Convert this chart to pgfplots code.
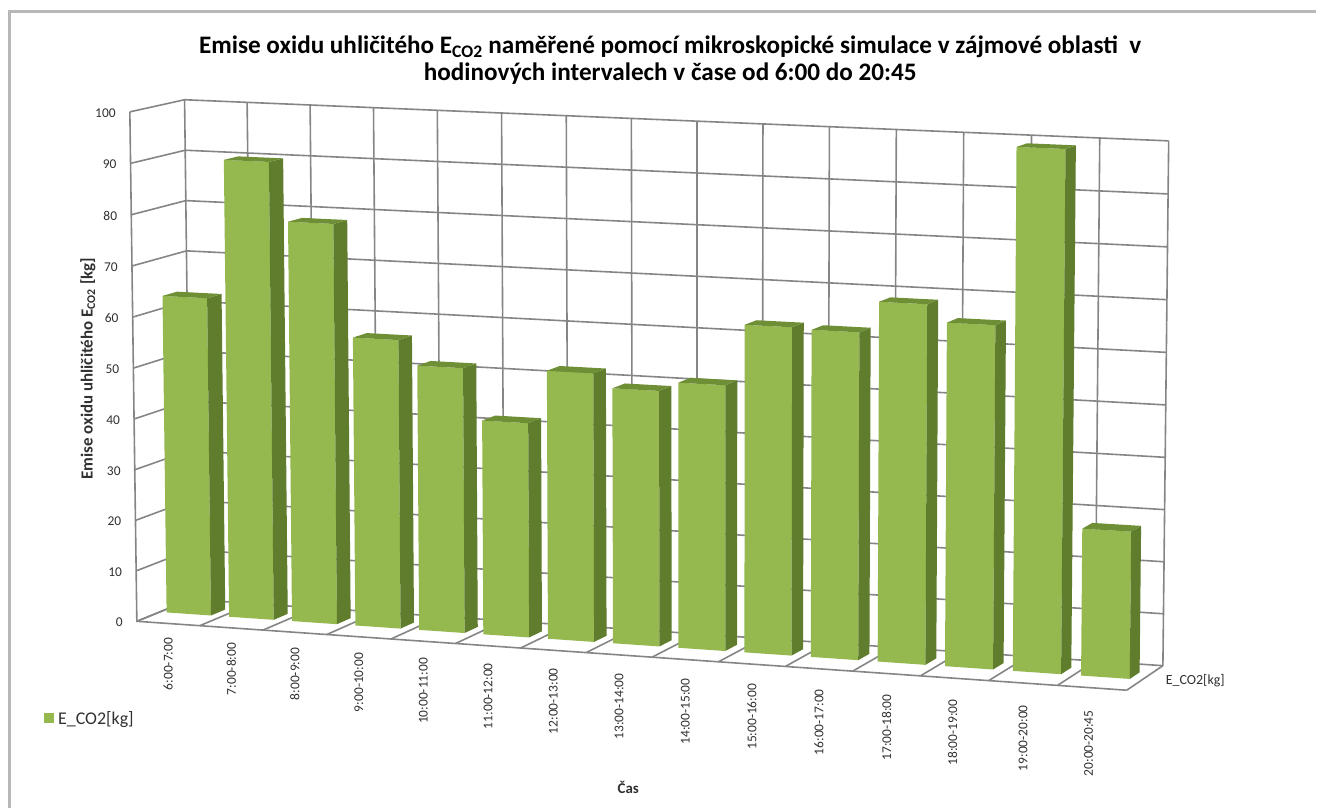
\documentclass[border=0pt]{standalone}
\usepackage{fontspec}
\setmainfont{Carlito}
\usepackage{pgfplots}
\usepackage{pgfplotstable}
\pgfplotsset{compat=1.18}

\definecolor{barfront}{HTML}{95B84F}
\definecolor{barside}{HTML}{5F7D2C}
\definecolor{bartop}{HTML}{6E8F35}
\definecolor{gridgrey}{HTML}{858585}
\definecolor{framegrey}{HTML}{B8B8B8}
\definecolor{labeltext}{HTML}{303030}

% Emissions per interval (kg)
\pgfplotstableread{
value
62.9
90.2
78.7
56.7
51.9
41.9
52.3
49.6
51.4
63.2
62.9
68.9
65.6
99.3
28.0
}\emissions

% Faces of one bar: a = position in the category, d = depth, b = share of the value
\pgfplotstableread{
a    d    b
0.11 0.42 0
0.82 0.42 0
0.82 0.42 1
0.11 0.42 1
}\frontface
\pgfplotstableread{
a    d    b
0.82 0.42 0
0.82 0.69 0
0.82 0.69 1
0.82 0.42 1
}\sideface
\pgfplotstableread{
a    d    b
0.11 0.42 1
0.82 0.42 1
0.82 0.69 1
0.11 0.69 1
}\topface

% Wall outline at one height: left wall, then back wall
\pgfplotstableread{
a d
0 0
0 1
1 1
}\wallline

% One category line: across the floor, then up the back wall
\pgfplotstableread{
d h
0 0
1 0
1 1
}\categoryline

% Left corner and front edge of the floor
\pgfplotstableread{
u h
0 1
0 0
1 0
}\frontedge

% Category names along the front edge of the floor
\pgfplotstableread[col sep=comma]{
pos,name
0.5,6:00-7:00
1.5,7:00-8:00
2.5,8:00-9:00
3.5,9:00-10:00
4.5,10:00-11:00
5.5,11:00-12:00
6.5,12:00-13:00
7.5,13:00-14:00
8.5,14:00-15:00
9.5,15:00-16:00
10.5,16:00-17:00
11.5,17:00-18:00
12.47,18:00-19:00
13.5,19:00-20:00
14.45,20:00-20:45
}\categories

\pgfplotstableread{
h name
0 0
10 10
20 20
30 30
40 40
50 50
60 60
70 70
80 80
90 90
100 100
}\valueticks

\begin{document}
\begin{tikzpicture}[
  declare function={
    wd(\u,\v,\h)=1-0.05*\u+0.02*\v-0.012*\h;
    px(\u,\v,\h)=(137+934.6*\u+57.82*\v-8.56*\h)/wd(\u,\v,\h);
    py(\u,\v,\h)=(622+34.45*\u-10*\v-511.34*\h)/wd(\u,\v,\h);
  }]
\begin{axis}[
  at={(0,0)}, anchor=south west,
  scale only axis, width=1317bp, height=809bp,
  xmin=0, xmax=1317, ymin=0, ymax=809, y dir=reverse,
  hide axis, clip=false,
  every axis plot/.append style={forget plot},
  gridline/.style={draw=gridgrey, line width=1.6bp, mark=none},
]
  % Page extent and the outer frame of the chart
  \path (axis cs:0,0) rectangle (axis cs:1317,809);
  \draw[framegrey, line width=3bp] (axis cs:10,809) -- (axis cs:10,12) -- (axis cs:1317,12);

  % Height lines on the walls
  \pgfplotsinvokeforeach{0,...,10}{
    \addplot[gridline] table[
      x expr={px(\thisrow{a},\thisrow{d},#1/10)},
      y expr={py(\thisrow{a},\thisrow{d},#1/10)}]{\wallline};
  }
  % Category lines on the back wall and on the floor
  \pgfplotsinvokeforeach{0,...,15}{
    \addplot[gridline] table[
      x expr={px(#1/15,\thisrow{d},\thisrow{h})},
      y expr={py(#1/15,\thisrow{d},\thisrow{h})}]{\categoryline};
  }
  % Front edge of the floor and the front corner of the left wall
  \addplot[gridline] table[
    x expr={px(\thisrow{u},0,\thisrow{h})},
    y expr={py(\thisrow{u},0,\thisrow{h})}]{\frontedge};

  % The bars
  \pgfplotsinvokeforeach{0,...,14}{
    \pgfplotstablegetelem{#1}{value}\of\emissions
    \let\val\pgfplotsretval
    \addplot[fill=barfront, draw=none, mark=none] table[
      x expr={px((#1+\thisrow{a})/15,\thisrow{d},\val/100*\thisrow{b})},
      y expr={py((#1+\thisrow{a})/15,\thisrow{d},\val/100*\thisrow{b})}]{\frontface};
    \addplot[fill=barside, draw=none, mark=none] table[
      x expr={px((#1+\thisrow{a})/15,\thisrow{d},\val/100*\thisrow{b})},
      y expr={py((#1+\thisrow{a})/15,\thisrow{d},\val/100*\thisrow{b})}]{\sideface};
    \addplot[fill=bartop, draw=none, mark=none] table[
      x expr={px((#1+\thisrow{a})/15,\thisrow{d},\val/100*\thisrow{b})},
      y expr={py((#1+\thisrow{a})/15,\thisrow{d},\val/100*\thisrow{b})}]{\topface};
  }

  % Value labels on the left, category labels under the floor
  \addplot[draw=none, mark=none, nodes near coords, point meta=explicit symbolic,
    every node near coord/.append style={anchor=east, inner sep=0pt,
      font=\fontsize{13.5}{15}\selectfont, text=labeltext}]
    table[
      x expr={px(0,0,\thisrow{h}/100)-14},
      y expr={py(0,0,\thisrow{h}/100)+1},
      meta=name]{\valueticks};
  \addplot[draw=none, mark=none, nodes near coords, point meta=explicit symbolic,
    every node near coord/.append style={rotate=90, anchor=east, inner sep=0pt,
      font=\fontsize{13.5}{15}\selectfont, text=labeltext}]
    table[
      x expr={px(\thisrow{pos}/15,0,0)},
      y expr={py(\thisrow{pos}/15,0,0)+14+0.6*\thisrow{pos}},
      meta=name]{\categories};

  % Titles and names
  \node[align=center, font=\fontsize{25.3}{27}\selectfont\bfseries, text=black]
    at (axis cs:671,60) {Emise oxidu uhličitého E\textsubscript{CO2} naměřené pomocí mikroskopické simulace v zájmové oblasti\ \ v\\hodinových intervalech v čase od 6:00 do 20:45};
  \node[rotate=90, font=\fontsize{17}{19}\selectfont\bfseries, text=labeltext]
    at (axis cs:88,369) {Emise oxidu uhličitého E\textsubscript{CO2} [kg]};
  \node[font=\fontsize{15}{17}\selectfont\bfseries, text=labeltext] at (axis cs:629,788) {Čas};
  \node[anchor=west, inner sep=0pt, font=\fontsize{14}{16}\selectfont, text=labeltext]
    at (axis cs:1167,681) {E\_CO2[kg]};

  % Legend
  \fill[barfront] (axis cs:44,714) rectangle (axis cs:54,724);
  \node[anchor=west, inner sep=0pt, font=\fontsize{18}{20}\selectfont, text=labeltext]
    at (axis cs:58,720) {E\_CO2[kg]};
\end{axis}
\end{tikzpicture}
\end{document}
